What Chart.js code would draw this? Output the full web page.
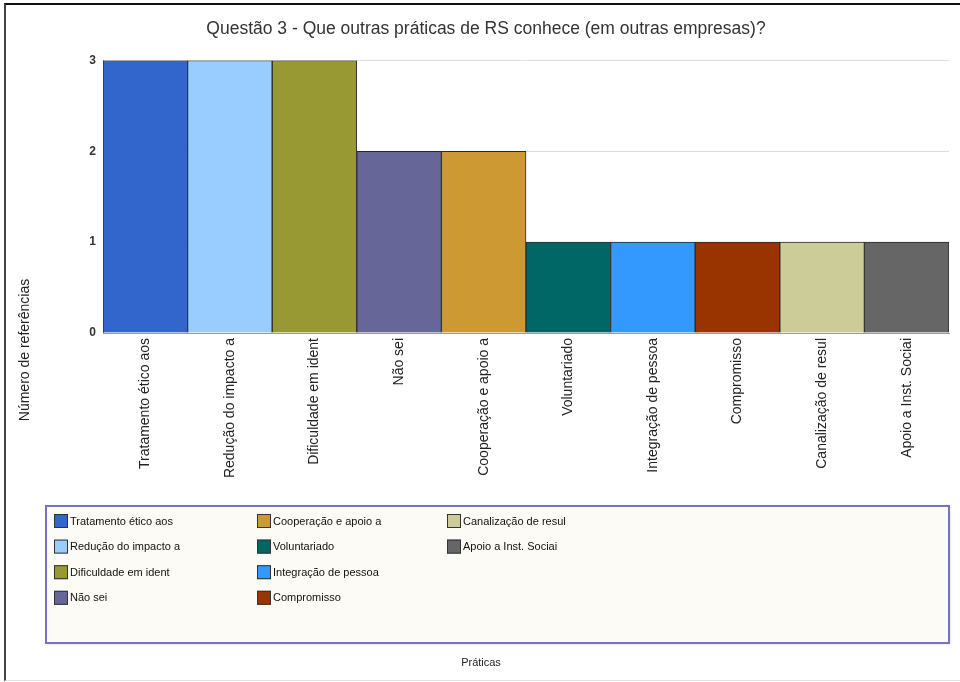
<!DOCTYPE html>
<html>
<head>
<meta charset="utf-8">
<title>Questão 3 - Práticas de RS</title>
<script src="https://cdn.jsdelivr.net/npm/chart.js@4"></script>
<style>
  html, body { margin: 0; padding: 0; background: #ffffff; }
  #wrap { position: relative; width: 960px; height: 682px; overflow: hidden; }
  #wrap canvas { position: absolute; left: 0; top: 0; }
  #frame {
    position: absolute; left: 4px; top: 3px; right: -10px; bottom: 1px;
    border-left: 2px solid #444; border-top: 2px solid #111; border-bottom: 1px solid #e2e2e2;
    pointer-events: none;
  }
</style>
</head>
<body>
<div id="wrap">
  <canvas id="chart" width="960" height="682"></canvas>
  <div id="frame"></div>
</div>
<script>
// Survey answers: one bar per practice, number of references on the y axis
const categories = [
  'Tratamento ético aos',
  'Redução do impacto a',
  'Dificuldade em ident',
  'Não sei',
  'Cooperação e apoio a',
  'Voluntariado',
  'Integração de pessoa',
  'Compromisso',
  'Canalização de resul',
  'Apoio a Inst. Sociai'
];
const references = [3, 3, 3, 2, 2, 1, 1, 1, 1, 1];
const barColors = [
  '#3366cc', '#99ccff', '#999933', '#666699', '#cc9933',
  '#006666', '#3399ff', '#993300', '#cccc99', '#666666'
];
const yTicks = [0, 1, 2, 3];
const chartTitle = 'Questão 3 - Que outras práticas de RS conhece (em outras empresas)?';
const xTitle = 'Práticas';
const yTitle = 'Número de referências';

const FONT = "'Liberation Sans', Arial, Helvetica, sans-serif";

// Boxed legend laid out column by column, plus the two axis captions
const boxLegend = {
  id: 'boxLegend',
  afterDraw(chart, args, o) {
    const { ctx } = chart;
    const labels = chart.data.labels;
    const colors = chart.data.datasets[0].backgroundColor;
    ctx.save();

    // panel
    ctx.shadowColor = 'rgba(0,0,0,0.18)';
    ctx.shadowBlur = 3;
    ctx.shadowOffsetX = 1;
    ctx.shadowOffsetY = 1;
    ctx.fillStyle = o.fill;
    ctx.fillRect(o.x, o.y, o.w, o.h);
    ctx.shadowColor = 'transparent';
    ctx.lineWidth = 2;
    ctx.strokeStyle = o.border;
    ctx.strokeRect(o.x, o.y, o.w, o.h);

    // entries
    ctx.font = `${o.fontSize}px ${FONT}`;
    ctx.textBaseline = 'middle';
    ctx.textAlign = 'left';
    labels.forEach((label, i) => {
      const col = Math.floor(i / o.rows);
      const row = i % o.rows;
      const bx = o.colX[col];
      const by = o.rowTop + row * o.rowGap;
      ctx.fillStyle = colors[i];
      ctx.fillRect(bx, by, o.swatch, o.swatch);
      ctx.lineWidth = 1;
      ctx.strokeStyle = '#333';
      ctx.strokeRect(bx + 0.5, by + 0.5, o.swatch - 1, o.swatch - 1);
      ctx.fillStyle = '#111';
      ctx.fillText(label, bx + o.swatch + 2, by + o.swatch / 2 + 0.5);
    });

    // axis captions
    ctx.fillStyle = '#222';
    ctx.textAlign = 'center';
    ctx.font = `${o.xTitleSize}px ${FONT}`;
    ctx.fillText(xTitle, o.xTitleX, o.xTitleY);
    ctx.translate(o.yTitleX, o.yTitleY);
    ctx.rotate(-Math.PI / 2);
    ctx.font = `${o.yTitleSize}px ${FONT}`;
    ctx.fillText(yTitle, 0, 0);
    ctx.restore();
  }
};

new Chart(document.getElementById('chart'), {
  type: 'bar',
  data: {
    labels: categories,
    datasets: [{
      data: references,
      backgroundColor: barColors,
      borderColor: '#2b2b2b',
      borderWidth: 1,
      barPercentage: 1,
      categoryPercentage: 1
    }]
  },
  options: {
    responsive: false,
    animation: false,
    events: [],
    layout: { padding: { left: 23, right: 11, top: 0, bottom: 0 } },
    plugins: {
      legend: { display: false },
      tooltip: { enabled: false },
      title: {
        display: true,
        text: chartTitle,
        color: '#333',
        font: { family: FONT, size: 17.5, weight: 'normal' },
        padding: { top: 19, bottom: 20.5 }
      },
      boxLegend: {
        x: 46, y: 506, w: 903, h: 137,
        fill: '#fdfbf5', border: '#7474bc',
        colX: [54, 257, 447], rowTop: 514, rowGap: 25.6, rows: 4,
        swatch: 14, fontSize: 11,
        xTitleX: 481, xTitleY: 663, xTitleSize: 11,
        yTitleX: 25, yTitleY: 350, yTitleSize: 14
      }
    },
    scales: {
      x: {
        grid: { display: false, drawTicks: false },
        border: { display: true, color: '#9a9a9a', width: 1 },
        ticks: {
          autoSkip: false, minRotation: 90, maxRotation: 90,
          padding: 5, color: '#222',
          font: { family: FONT, size: 14 }
        },
        afterFit(scale) { scale.height = 682 - 333; }
      },
      y: {
        min: 0, max: 3,
        afterBuildTicks(scale) { scale.ticks = yTicks.map(v => ({ value: v })); },
        grid: { color: '#dcdcdc', drawTicks: false },
        border: { display: true, color: '#9a9a9a', width: 1 },
        ticks: {
          padding: 7, color: '#333',
          font: { family: FONT, size: 12, weight: 'bold' }
        },
        afterFit(scale) { scale.width = 80; }
      }
    }
  },
  plugins: [boxLegend]
});
</script>
</body>
</html>
